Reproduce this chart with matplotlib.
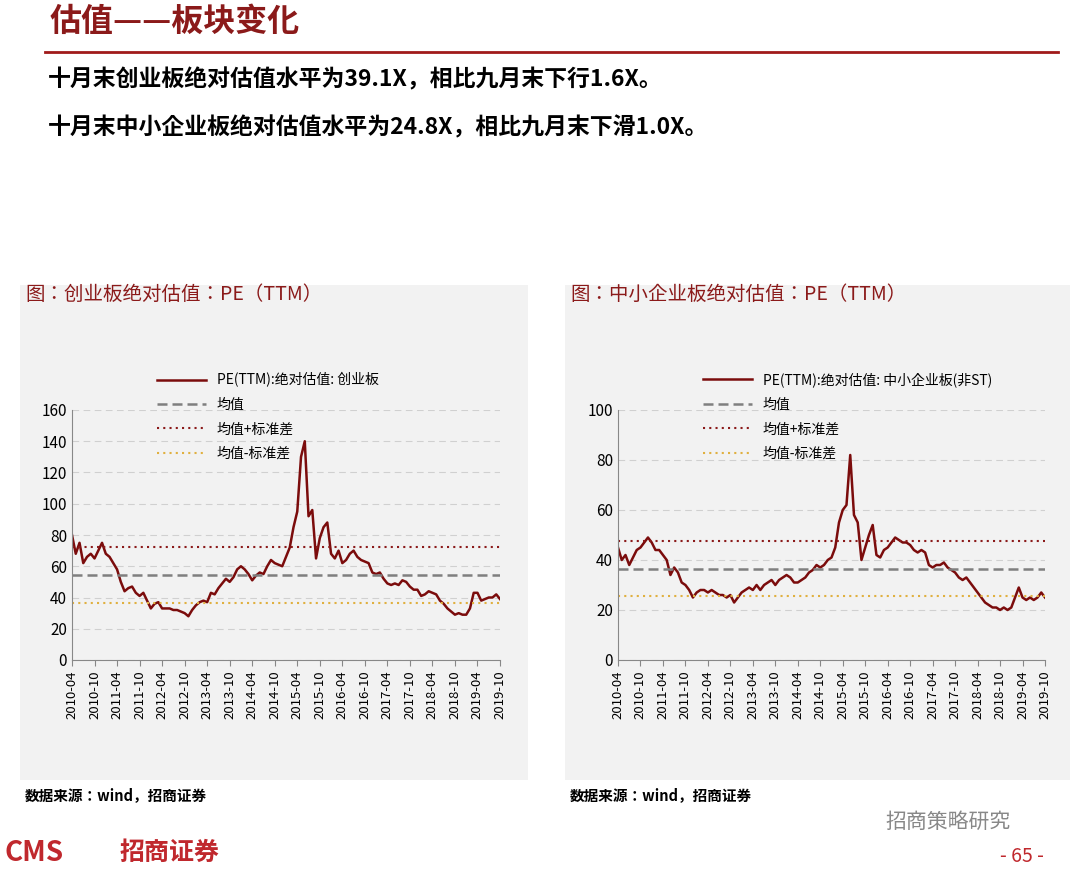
import matplotlib
matplotlib.use("Agg")
import matplotlib.pyplot as plt
from matplotlib import font_manager
from matplotlib.patches import Rectangle
from matplotlib.lines import Line2D

cjk = [f.name for f in font_manager.fontManager.ttflist if "CJK" in f.name]
pref = [n for n in ("Noto Sans CJK SC", "Noto Sans CJK JP", "Noto Sans CJK TC", "Noto Sans CJK KR") if n in cjk]
fam = pref[0] if pref else (cjk[0] if cjk else "DejaVu Sans")
plt.rcParams["font.family"] = [fam, "DejaVu Sans"]

W, H = 1080, 869
tick_labels = [f"{y}-{m}" for y in range(2010, 2020) for m in ("04", "10")]

gem_pe = [80, 68, 75, 62, 66, 68, 65, 70, 75,
          68, 66, 62, 58, 50, 44, 46, 47, 43, 41, 43, 38,
          33, 36, 37, 33, 33, 33, 32, 32, 31, 30, 28, 32,
          35, 37, 38, 37, 43, 42, 46, 49, 52, 50, 53, 58,
          60, 58, 55, 51, 54, 56, 55, 60, 64, 62, 61, 60,
          66, 72, 85, 95, 130, 140, 92, 96, 65, 78, 85, 88,
          68, 65, 70, 62, 64, 68, 70, 66, 64, 63, 62, 56,
          55, 56, 52, 49, 48, 49, 48, 51, 50, 47, 45, 45,
          41, 42, 44, 43, 42, 38, 36, 33, 31, 29, 30, 29,
          29, 33, 43, 43, 38, 39, 40, 40, 42, 39]
gem_mean, gem_plus, gem_minus = 54.5, 72.5, 36.5

sme_pe = [45, 40, 42, 38, 41, 44, 45, 47, 49,
          47, 44, 44, 42, 40, 34, 37, 35, 31, 30, 28, 25,
          27, 28, 28, 27, 28, 27, 26, 26, 25, 26, 23, 25,
          27, 28, 29, 28, 30, 28, 30, 31, 32, 30, 32, 33,
          34, 33, 31, 31, 32, 33, 35, 36, 38, 37, 38, 40,
          41, 45, 55, 60, 62, 82, 58, 55, 40, 45, 50, 54,
          42, 41, 44, 45, 47, 49, 48, 47, 47, 46, 44, 43,
          44, 43, 38, 37, 38, 38, 39, 37, 36, 35, 33, 32,
          33, 31, 29, 27, 25, 23, 22, 21, 21, 20, 21, 20,
          21, 25, 29, 25, 24, 25, 24, 25, 27, 25]
sme_mean, sme_plus, sme_minus = 36.5, 47.5, 25.5

RED = "#7b0c0c"
TITLE_RED = "#8b1a1a"

fig = plt.figure(figsize=(W / 100, H / 100), dpi=100)
fig.patch.set_facecolor("white")

def fx(x): return x / W
def fy(y): return 1 - y / H

fig.text(fx(50), fy(22), "估值——板块变化", fontsize=23, color=TITLE_RED, fontweight="bold", va="center")
fig.add_artist(Line2D([fx(45), fx(1058)], [fy(52), fy(52)], color="#a01a1a", lw=2))
fig.text(fx(48), fy(80), "十月末创业板绝对估值水平为39.1X，相比九月末下行1.6X。", fontsize=16.5, fontweight="bold", va="center")
fig.text(fx(48), fy(128), "十月末中小企业板绝对估值水平为24.8X，相比九月末下滑1.0X。", fontsize=16.5, fontweight="bold", va="center")

def panel(px0, px1, title, ax_x0, ax_x1, values, mean, plus, minus, ymax, step, label, src_x):
    fig.add_artist(Rectangle((fx(px0), fy(780)), fx(px1 - px0), fy(285) - fy(780),
                             facecolor="#f2f2f2", edgecolor="none", zorder=0))
    fig.text(fx(px0 + 5), fy(294), title, fontsize=14, color=TITLE_RED, va="center")
    ax = fig.add_axes([fx(ax_x0), fy(660), fx(ax_x1 - ax_x0), fy(410) - fy(660)])
    ax.set_facecolor("#f2f2f2")
    n = len(values)
    x = list(range(n))
    ax.plot(x, values, color=RED, lw=1.8, label=label)
    ax.plot([0, n - 1], [mean, mean], color="#7f7f7f", lw=1.8, ls=(0, (4, 2)), label="均值")
    ax.plot([0, n - 1], [plus, plus], color="#8b1a1a", lw=1.5, ls=(0, (1, 2)), label="均值+标准差")
    ax.plot([0, n - 1], [minus, minus], color="#e0b040", lw=1.5, ls=(0, (1, 2)), label="均值-标准差")
    ax.set_ylim(0, ymax)
    ax.set_xlim(0, n - 1)
    ax.set_yticks(range(0, ymax + 1, step))
    ax.set_xticks(range(0, n, 6))
    ax.set_xticklabels(tick_labels, rotation=90, fontsize=9.5)
    ax.tick_params(axis="y", labelsize=11, length=0)
    ax.tick_params(axis="x", length=4, color="#888")
    ax.grid(axis="y", color="#d0d0d0", ls=(0, (6, 4)), lw=0.8)
    for s in ("top", "right"):
        ax.spines[s].set_visible(False)
    ax.spines["left"].set_color("#888")
    ax.spines["bottom"].set_color("#888")
    ax.legend(loc="upper left", bbox_to_anchor=(0.17, 1.2), frameon=False,
              fontsize=10, handlelength=3.5, labelspacing=0.75)
    fig.text(fx(src_x), fy(795), "数据来源：wind，招商证券", fontsize=10.5, fontweight="bold", va="center")
    return ax

panel(20, 528, "图：创业板绝对估值：PE（TTM）", 72, 500, gem_pe, gem_mean, gem_plus, gem_minus, 160, 20,
      "PE(TTM):绝对估值: 创业板", 25)
panel(565, 1070, "图：中小企业板绝对估值：PE（TTM）", 618, 1045, sme_pe, sme_mean, sme_plus, sme_minus, 100, 20,
      "PE(TTM):绝对估值: 中小企业板(非ST)", 570)

fig.text(fx(5), fy(853), "CMS", fontsize=20, color="#c0282d", fontweight="bold", va="center")
fig.text(fx(120), fy(853), "招商证券", fontsize=18, color="#c0282d", fontweight="bold", va="center")
fig.text(fx(885), fy(822), "招商策略研究", fontsize=15, color="#888888", va="center")
fig.text(fx(1000), fy(856), "- 65 -", fontsize=14, color="#c0282d", va="center")

fig.savefig("out.png", dpi=100)
